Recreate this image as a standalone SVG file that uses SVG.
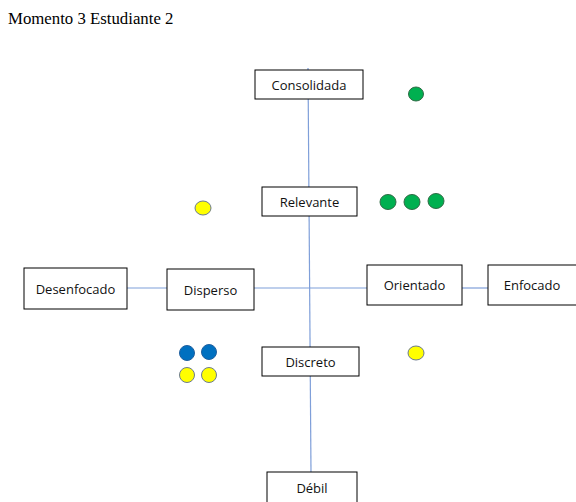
<svg xmlns="http://www.w3.org/2000/svg" width="576" height="502" viewBox="0 0 576 502">
  <style>
    .box { fill: #ffffff; stroke: #000000; stroke-width: 1; }
    .lbl { font-family: "Open Sans", "Liberation Sans", sans-serif; font-size: 13px; fill: #111111; text-anchor: middle; }
    .axis { stroke: #7f9fd9; stroke-width: 1.2; fill: none; }
    .green { fill: #00b050; stroke: #2f6b45; stroke-width: 1; }
    .yellow { fill: #ffff00; stroke: #6b7a8f; stroke-width: 1; }
    .blue { fill: #0070c0; stroke: #1f5f9f; stroke-width: 1; }
    .title { font-family: "Liberation Serif", serif; font-size: 16.8px; fill: #000000; }
  </style>
  <rect width="576" height="502" fill="#ffffff"/>
  <text class="title" x="8" y="24">Momento 3 Estudiante 2</text>

  <g id="connectors">
    <line class="axis" x1="308" y1="68" x2="311" y2="472"/>
    <line class="axis" x1="127" y1="288" x2="167" y2="288"/>
    <line class="axis" x1="254" y1="288" x2="367" y2="288"/>
    <line class="axis" x1="462" y1="288" x2="488" y2="288"/>
  </g>

  <g id="consolidada">
    <rect class="box" x="255" y="70" width="108" height="29"/>
    <text class="lbl" x="309" y="89.5">Consolidada</text>
  </g>
  <g id="relevante">
    <rect class="box" x="262" y="187" width="95" height="29"/>
    <text class="lbl" x="309.5" y="206.5">Relevante</text>
  </g>
  <g id="desenfocado">
    <rect class="box" x="24" y="268" width="103" height="41"/>
    <text class="lbl" x="75.5" y="293.5">Desenfocado</text>
  </g>
  <g id="disperso">
    <rect class="box" x="167" y="269" width="87" height="41"/>
    <text class="lbl" x="210.5" y="294.5">Disperso</text>
  </g>
  <g id="orientado">
    <rect class="box" x="367" y="265" width="95" height="40"/>
    <text class="lbl" x="414.5" y="290">Orientado</text>
  </g>
  <g id="enfocado">
    <rect class="box" x="488" y="265" width="94" height="40"/>
    <text class="lbl" x="532" y="290">Enfocado</text>
  </g>
  <g id="discreto">
    <rect class="box" x="262" y="347" width="97" height="29"/>
    <text class="lbl" x="310.5" y="366.5">Discreto</text>
  </g>
  <g id="debil">
    <rect class="box" x="267" y="472" width="90" height="40"/>
    <text class="lbl" x="312" y="493">Débil</text>
  </g>

  <g id="markers">
    <ellipse class="green" cx="416" cy="94" rx="7.5" ry="7"/>
    <ellipse class="green" cx="388" cy="202" rx="8" ry="7.5"/>
    <ellipse class="green" cx="412" cy="202" rx="8" ry="7.5"/>
    <ellipse class="green" cx="436" cy="201" rx="8" ry="7.5"/>
    <ellipse class="yellow" cx="203" cy="208" rx="8" ry="7"/>
    <ellipse class="blue" cx="187" cy="353" rx="7.5" ry="7.5"/>
    <ellipse class="blue" cx="209" cy="352" rx="7.5" ry="7.5"/>
    <ellipse class="yellow" cx="187" cy="375" rx="7.5" ry="7.5"/>
    <ellipse class="yellow" cx="209" cy="375" rx="7.5" ry="7.5"/>
    <ellipse class="yellow" cx="416" cy="353" rx="8" ry="7"/>
  </g>
</svg>
